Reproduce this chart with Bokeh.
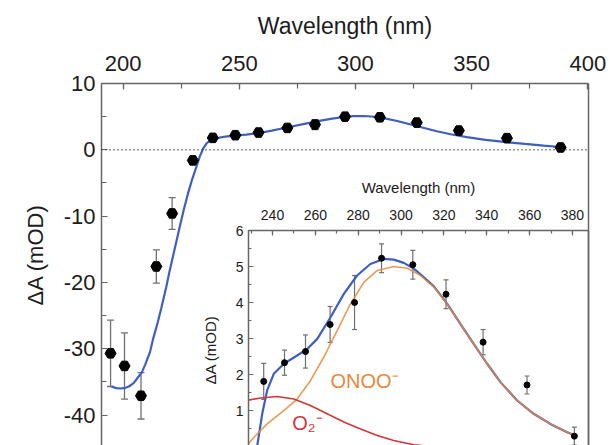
from bokeh.plotting import figure
from bokeh.models import (Range1d, LinearAxis, SingleIntervalTicker, FixedTicker, Span,
                          Whisker, TeeHead, ColumnDataSource, Label, Title,
                          PrintfTickFormatter)
from bokeh.embed import file_html
from bokeh.resources import INLINE

FONT = "Liberation Sans"
TXT = "#1c1c1c"
AX = "#666666"
BLUE = "#3f5fc0"
ORANGE = "#e8883a"
RED = "#d2353c"
ERRC = "#707070"

# ---------------- main panel data ----------------
main_wl = [194.6, 200.6, 207.7, 214.3, 221.1, 230.0, 238.6, 248.3, 258.3, 270.7,
           282.6, 295.5, 310.5, 326.4, 344.5, 365.2, 388.3]
main_val = [-30.7, -32.6, -37.1, -17.6, -9.6, -1.6, 1.8, 2.2, 2.6, 3.3,
            3.8, 5.0, 4.9, 4.1, 2.9, 1.76, 0.35]
main_err = [5.0, 5.0, 3.5, 2.5, 2.4, 0.6, 0.5, 0.35, 0.46, 0.5,
            0.75, 0.4, 0.4, 0.4, 0.35, 0.25, 0.25]

fit_wl = [195.0, 197.0, 199.0, 201.0, 202.5, 204.5, 206.0, 208.0, 209.5, 211.5, 213.0,
          215.0, 216.5, 218.5, 220.0, 221.5, 223.0, 224.5, 226.0, 228.0, 229.5, 231.5,
          233.0, 234.5, 236.0, 238.0, 241.0, 244.0, 248.0, 253.0, 258.0, 264.0, 271.0,
          278.0, 285.0, 290.0, 295.0, 299.0, 303.0, 307.0, 311.0, 318.0, 325.0, 330.0,
          335.0, 341.0, 348.0, 356.0, 365.0, 373.0, 381.0, 388.0]
fit_val = [-35.7, -35.95, -36.0, -35.9, -35.7, -35.2, -34.5, -33.6, -32.4, -30.6, -28.4,
           -25.9, -23.8, -20.8, -18.3, -16.0, -13.7, -11.4, -9.2, -6.5, -4.7, -2.6,
           -1.0, 0.2, 1.0, 1.5, 1.8, 2.0, 2.15, 2.3, 2.5, 2.9, 3.4,
           3.9, 4.4, 4.7, 4.95, 5.07, 5.1, 5.02, 4.85, 4.35, 3.7, 3.25,
           2.8, 2.35, 1.9, 1.5, 1.15, 0.88, 0.62, 0.42]

# ---------------- inset data ----------------
ins_wl = [235.9, 245.6, 255.4, 266.9, 278.3, 290.9, 305.5, 321.0, 338.3, 358.8, 380.9]
ins_val = [1.81, 2.33, 2.64, 3.39, 4.0, 5.23, 5.05, 4.23, 2.9, 1.71, 0.29]
ins_err = [0.5, 0.35, 0.46, 0.5, 0.75, 0.4, 0.4, 0.4, 0.35, 0.25, 0.25]

tot_wl = [232.0, 232.9, 235.2, 237.5, 240.6, 245.3, 251.5, 256.2, 260.9, 267.1, 273.3,
          279.5, 285.7, 291.9, 296.6, 301.3, 305.9, 309.1, 315.3, 321.5, 327.7, 333.9,
          340.2, 346.4, 354.2, 361.9, 369.7, 377.5, 381.4]
tot_val = [-0.3, 0.03, 0.91, 1.56, 2.02, 2.30, 2.53, 2.71, 2.99, 3.59, 4.24,
           4.75, 5.07, 5.21, 5.19, 5.10, 4.94, 4.78, 4.45, 3.97, 3.41, 2.85,
           2.30, 1.79, 1.28, 0.91, 0.63, 0.40, 0.31]

onoo_wl = [228.8, 232.0, 237.5, 241.0, 245.3, 251.5, 257.7, 263.9, 270.2, 276.4, 282.6,
           288.9, 296.6, 302.9, 309.1, 315.3, 321.5, 327.7, 333.9, 340.2, 346.4, 354.2,
           361.9, 369.7, 377.5, 381.4]
onoo_val = [0.08, 0.3, 0.63, 0.8, 1.0, 1.32, 1.83, 2.48, 3.22, 3.96, 4.56,
            4.89, 5.0, 4.95, 4.75, 4.43, 3.96, 3.41, 2.85, 2.30, 1.79, 1.28,
            0.91, 0.63, 0.40, 0.31]

o2_wl = [228.8, 234.4, 242.2, 249.9, 257.7, 265.5, 273.3, 281.1, 288.9, 296.6, 305.9, 315.0]
o2_val = [1.29, 1.35, 1.39, 1.32, 1.14, 0.91, 0.68, 0.49, 0.31, 0.17, 0.05, 0.0]

main_x_ticks_interval = 50
main_y_ticks_interval = 10
ins_x_ticks_interval = 20
ins_y_ticks_interval = 1


def style_axis(ax, label_size):
    ax.axis_line_color = AX
    ax.axis_line_width = 1.5
    ax.major_tick_line_color = AX
    ax.minor_tick_line_color = AX
    ax.major_tick_line_width = 1.2
    ax.minor_tick_line_width = 1.2
    ax.major_tick_out = 0
    ax.minor_tick_out = 0
    ax.formatter = PrintfTickFormatter(format="%d")
    ax.major_label_text_font = FONT
    ax.major_label_text_font_size = label_size
    ax.major_label_text_color = TXT
    ax.axis_label_text_font = FONT
    ax.axis_label_text_font_style = "normal"
    ax.axis_label_text_color = TXT


def frame_line_axis():
    ax = LinearAxis(ticker=FixedTicker(ticks=[]))
    ax.axis_line_color = AX
    ax.axis_line_width = 1.5
    ax.major_tick_in = 0
    ax.major_tick_out = 0
    ax.minor_tick_in = 0
    ax.minor_tick_out = 0
    return ax


# ---------------- main figure ----------------
p = figure(width=610, height=445, output_backend="svg", toolbar_location=None,
           x_range=Range1d(190.7, 400.3), y_range=Range1d(-44.6, 10),
           x_axis_location="above",
           min_border_left=101, min_border_right=22, min_border_top=83, min_border_bottom=0)
p.outline_line_color = None
p.grid.visible = False
p.background_fill_color = "white"
p.border_fill_color = "white"

xa = p.xaxis[0]
style_axis(xa, "22px")
xa.ticker = SingleIntervalTicker(interval=main_x_ticks_interval, num_minor_ticks=2)
xa.major_tick_in = 6
xa.minor_tick_in = 5
xa.major_label_standoff = 13
xa.axis_label = "Wavelength (nm)"
xa.axis_label_text_font_size = "23px"
xa.axis_label_standoff = 14

ya = p.yaxis[0]
style_axis(ya, "22px")
ya.ticker = SingleIntervalTicker(interval=main_y_ticks_interval, num_minor_ticks=2)
ya.major_tick_in = 6
ya.minor_tick_in = 5
ya.major_label_standoff = 6

p.add_layout(frame_line_axis(), "right")
p.add_layout(Title(text="\u0394A (mOD)", align="left", offset=140, standoff=26,
                   text_font=FONT, text_font_size="22px", text_font_style="normal",
                   text_color=TXT), "left")

p.add_layout(Span(location=0, dimension="width", line_color="#333333",
                  line_dash="1 3", line_width=1.6))

p.line(fit_wl, fit_val, line_color=BLUE, line_width=2.2)

msrc = ColumnDataSource(dict(x=main_wl, y=main_val,
                             upper=[v + e for v, e in zip(main_val, main_err)],
                             lower=[v - e for v, e in zip(main_val, main_err)]))
p.add_layout(Whisker(base="x", upper="upper", lower="lower", source=msrc,
                     line_color=ERRC, line_width=1.3,
                     upper_head=TeeHead(size=7, line_color=ERRC, line_width=1.3),
                     lower_head=TeeHead(size=7, line_color=ERRC, line_width=1.3)))
p.scatter("x", "y", source=msrc, marker="hex", size=11, color="black")

# ---------------- inset figure (overlaid on the whole main canvas) ----------------
q = figure(width=610, height=445, output_backend="svg", toolbar_location=None,
           x_range=Range1d(228.8, 387.5), y_range=Range1d(0.03, 6),
           x_axis_location="above",
           min_border_left=248, min_border_right=22, min_border_top=230, min_border_bottom=0)
q.outline_line_color = None
q.grid.visible = False
q.background_fill_alpha = 0
q.border_fill_alpha = 0
q.margin = (-445, 0, 0, 0)

qx = q.xaxis[0]
style_axis(qx, "14px")
qx.ticker = SingleIntervalTicker(interval=ins_x_ticks_interval, num_minor_ticks=2)
qx.major_tick_in = 5
qx.minor_tick_in = 3
qx.major_label_standoff = 11
qx.axis_label = "Wavelength (nm)"
qx.axis_label_text_font_size = "15px"
qx.axis_label_standoff = 11

qy = q.yaxis[0]
style_axis(qy, "14px")
qy.ticker = SingleIntervalTicker(interval=ins_y_ticks_interval, num_minor_ticks=2)
qy.major_tick_in = 5
qy.minor_tick_in = 3
qy.major_label_standoff = 5

q.add_layout(frame_line_axis(), "right")
q.add_layout(Title(text="\u0394A (mOD)", align="left", offset=61, standoff=28,
                   text_font=FONT, text_font_size="15px", text_font_style="normal",
                   text_color=TXT), "left")

q.line(tot_wl, tot_val, line_color=BLUE, line_width=2.2)
q.line(onoo_wl, onoo_val, line_color=ORANGE, line_width=1.6, line_alpha=0.85)
q.line(o2_wl, o2_val, line_color=RED, line_width=1.6)

isrc = ColumnDataSource(dict(x=ins_wl, y=ins_val,
                             upper=[v + e for v, e in zip(ins_val, ins_err)],
                             lower=[v - e for v, e in zip(ins_val, ins_err)]))
q.add_layout(Whisker(base="x", upper="upper", lower="lower", source=isrc,
                     line_color=ERRC, line_width=1.2,
                     upper_head=TeeHead(size=5, line_color=ERRC, line_width=1.2),
                     lower_head=TeeHead(size=5, line_color=ERRC, line_width=1.2)))
q.scatter("x", "y", source=isrc, marker="circle", size=6, color="black")

q.add_layout(Label(x=267.1, y=1.83, text="ONOO\u207b", text_align="left",
                   text_baseline="middle", text_font=FONT, text_font_size="20px",
                   text_color=ORANGE))
q.add_layout(Label(x=249.2, y=0.65, text="O\u2082\u207b", text_align="left",
                   text_baseline="middle", text_font=FONT, text_font_size="20px",
                   text_color=RED))

open("out.html", "w").write(file_html([p, q], INLINE))
